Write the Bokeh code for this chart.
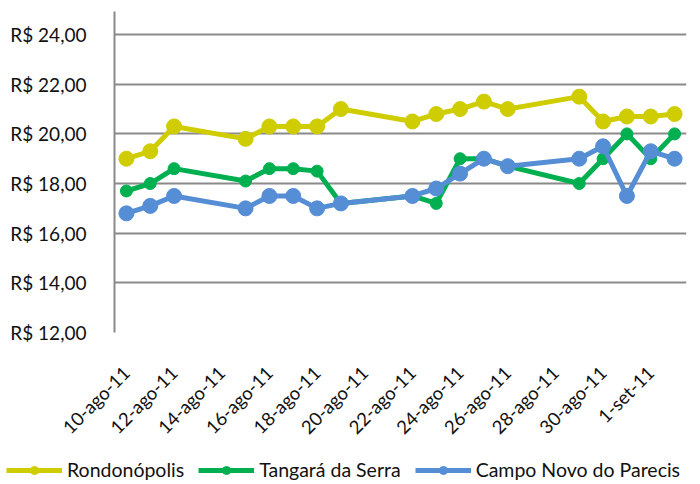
import math
import pandas as pd
from bokeh.plotting import figure
from bokeh.layouts import column, row
from bokeh.models import (Range1d, FixedTicker, Legend, LegendItem, ColumnDataSource)
from bokeh.embed import file_html
from bokeh.resources import INLINE

# ---- data ----
dates = ["2011-08-10", "2011-08-11", "2011-08-12", "2011-08-15", "2011-08-16",
         "2011-08-17", "2011-08-18", "2011-08-19", "2011-08-22", "2011-08-23",
         "2011-08-24", "2011-08-25", "2011-08-26", "2011-08-29", "2011-08-30",
         "2011-08-31", "2011-09-01", "2011-09-02"]
rondonopolis = [19.0, 19.3, 20.3, 19.8, 20.3, 20.3, 20.3, 21.0, 20.5, 20.8,
                21.0, 21.3, 21.0, 21.5, 20.5, 20.7, 20.7, 20.8]
tangara = [17.7, 18.0, 18.6, 18.1, 18.6, 18.6, 18.5, 17.2, 17.5, 17.2,
           19.0, 19.0, 18.7, 18.0, 19.0, 20.0, 19.0, 20.0]
campo_novo = [16.8, 17.1, 17.5, 17.0, 17.5, 17.5, 17.0, 17.2, 17.5, 17.8,
              18.4, 19.0, 18.7, 19.0, 19.5, 17.5, 19.3, 19.0]
series_names = ["Rondonópolis", "Tangará da Serra", "Campo Novo do Parecis"]

x_tick_dates = ["2011-08-10", "2011-08-12", "2011-08-14", "2011-08-16", "2011-08-18",
                "2011-08-20", "2011-08-22", "2011-08-24", "2011-08-26", "2011-08-28",
                "2011-08-30", "2011-09-01"]
x_tick_labels = ["10-ago-11", "12-ago-11", "14-ago-11", "16-ago-11", "18-ago-11",
                 "20-ago-11", "22-ago-11", "24-ago-11", "26-ago-11", "28-ago-11",
                 "30-ago-11", "1-set-11"]
y_ticks = [12, 14, 16, 18, 20, 22, 24]
y_tick_labels = ["R$ 12,00", "R$ 14,00", "R$ 16,00", "R$ 18,00", "R$ 20,00",
                 "R$ 22,00", "R$ 24,00"]

# ---- styles ----
colors = ["#cfcc00", "#00b050", "#558ed5"]
marker_sizes = [15, 12, 15]
FONT = "Lato"


def to_ms(s):
    return pd.Timestamp(s).value / 1e6


x_dt = pd.to_datetime(dates)
tick_ms = [to_ms(d) for d in x_tick_dates]

p = figure(width=690, height=451, output_backend="svg", toolbar_location=None,
           x_axis_type="datetime",
           x_range=Range1d(pd.Timestamp("2011-08-09 12:00"), pd.Timestamp("2011-09-02 12:00")),
           y_range=Range1d(12, 24.93),
           min_border_left=114, min_border_right=4, min_border_top=11,
           min_border_bottom=119)
p.outline_line_color = None
p.background_fill_color = "white"
p.border_fill_color = "white"

p.xgrid.grid_line_color = None
p.ygrid.ticker = FixedTicker(ticks=y_ticks)
p.ygrid.grid_line_color = "#8a8a8a"
p.ygrid.grid_line_width = 2

# x axis
xa = p.xaxis[0]
xa.ticker = FixedTicker(ticks=tick_ms)
xa.major_label_overrides = {t: l for t, l in zip(tick_ms, x_tick_labels)}
xa.major_label_orientation = math.pi / 4
xa.axis_line_color = None
xa.major_tick_line_color = None
xa.minor_tick_line_color = None
xa.major_tick_out = 0
xa.major_tick_in = 0
xa.minor_tick_out = 0
xa.major_label_standoff = 37
xa.major_label_text_font = FONT
xa.major_label_text_font_size = "18.5px"
xa.major_label_text_color = "#111111"

# y axis
ya = p.yaxis[0]
ya.ticker = FixedTicker(ticks=y_ticks)
ya.major_label_overrides = {t: l for t, l in zip(y_ticks, y_tick_labels)}
ya.axis_line_color = "#8a8a8a"
ya.axis_line_width = 2
ya.major_tick_line_color = None
ya.minor_tick_line_color = None
ya.major_tick_out = 0
ya.major_tick_in = 0
ya.minor_tick_out = 0
ya.major_label_standoff = 28
ya.major_label_text_font = FONT
ya.major_label_text_font_size = "19px"
ya.major_label_text_color = "#111111"

for vals, c, ms in zip([rondonopolis, tangara, campo_novo], colors, marker_sizes):
    src = ColumnDataSource(dict(x=x_dt, y=vals))
    p.line("x", "y", source=src, line_color=c, line_width=5, line_join="round")
    p.scatter("x", "y", source=src, size=ms, fill_color=c, line_color=c, marker="circle")

# ---- legend strip below the chart ----
pl = figure(width=690, height=30, output_backend="svg", toolbar_location=None,
            x_range=Range1d(0, 1), y_range=Range1d(0, 1),
            x_axis_location=None, y_axis_location=None,
            min_border_left=0, min_border_right=0, min_border_top=0, min_border_bottom=0)
pl.outline_line_color = None
pl.grid.visible = False

items = []
for name, c, ms in zip(series_names, colors, marker_sizes):
    blank = ColumnDataSource(dict(x=[float("nan")], y=[float("nan")]))
    lr = pl.line("x", "y", source=blank, line_color=c, line_width=5)
    sr = pl.scatter("x", "y", source=blank, size=ms, fill_color=c, line_color=c, marker="circle")
    items.append(LegendItem(label=name, renderers=[lr, sr]))

legend = Legend(items=items, orientation="horizontal", location=(6, 0),
                glyph_width=56, glyph_height=20, label_standoff=5, spacing=14,
                padding=0, margin=0, border_line_color=None, background_fill_alpha=0,
                label_text_font=FONT, label_text_font_size="19.5px",
                label_text_color="#111111", label_height=20)
pl.add_layout(legend, "center")

layout = column(p, row(pl), spacing=0)
open("out.html", "w").write(file_html(layout, INLINE))
